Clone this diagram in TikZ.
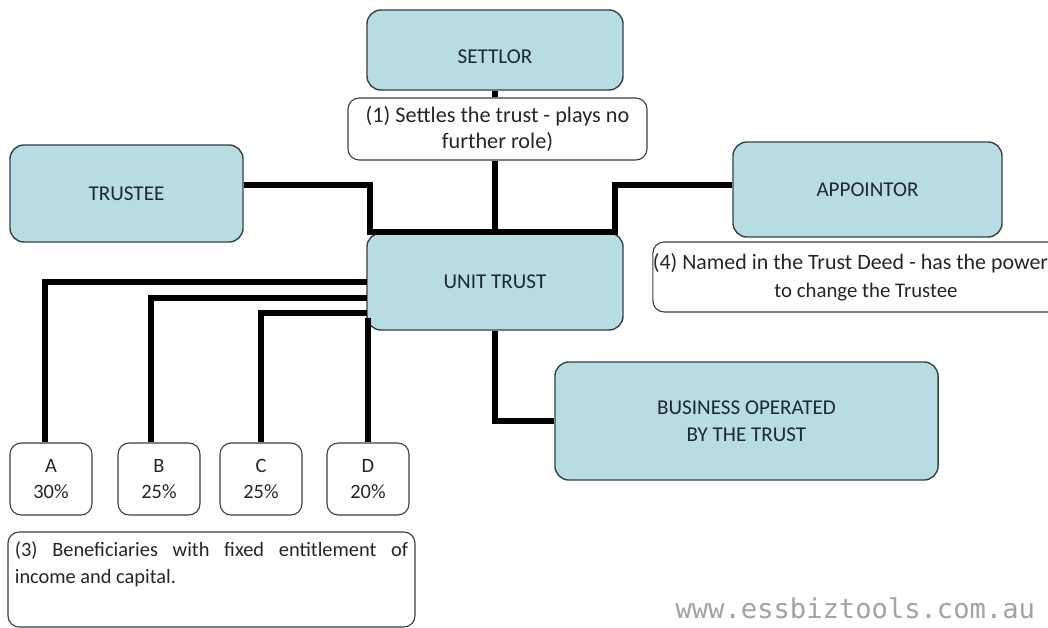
\documentclass[tikz,border=0pt]{standalone}
\usepackage{fontspec}
\setmainfont{Carlito}
\newfontfamily\webfont{DejaVu Sans Mono}
\usepackage{xcolor}

\definecolor{boxfill}{RGB}{183,221,226}
\definecolor{boxline}{RGB}{55,65,70}
\definecolor{labeltext}{RGB}{30,40,52}

\begin{document}
\begin{tikzpicture}[x=0.025cm, y=-0.025cm,
    party/.style={draw=boxline, line width=1pt, fill=boxfill, rounded corners=10pt,
        text=labeltext, align=center, inner sep=0pt, font=\fontsize{15}{19}\selectfont},
    remark/.style={draw=boxline, line width=0.8pt, fill=white, rounded corners=8pt,
        text=black!85, align=center, inner sep=0pt, font=\fontsize{14.5}{19}\selectfont},
    share/.style={remark, minimum width=2.05cm, minimum height=1.8cm},
    link/.style={line width=4.3pt}]
    \useasboundingbox (0,0) rectangle (1048,628);
    \fill[white] (0,0) rectangle (1048,628);
    \clip (0,0) rectangle (1048,628);

    % parties
    \node[party, minimum width=6.4cm, minimum height=2cm, text height=19.6pt, text depth=0pt] (settlor) at (495,50) {SETTLOR};
    \node[party, minimum width=5.825cm, minimum height=2.425cm] (trustee) at (126.5,193.5) {TRUSTEE};
    \node[party, minimum width=6.725cm, minimum height=2.375cm] (appointor) at (867.5,189.5) {APPOINTOR};
    \node[party, minimum width=6.4cm, minimum height=2.425cm] (unit) at (495,281.5) {UNIT TRUST};
    \node[party, minimum width=9.575cm, minimum height=2.95cm] (business) at (746.5,421) {BUSINESS OPERATED\\BY THE TRUST};

    % remarks
    \node[remark, minimum width=7.475cm, minimum height=1.55cm, font=\fontsize{15.8}{18}\selectfont] (note1) at (497.5,129)
        {(1) Settles the trust - plays no\\further role)};
    \node[remark, minimum width=10.625cm, minimum height=1.75cm, font=\fontsize{14.8}{20}\selectfont] (note4) at (866,277)
        {{\fontsize{15.6}{20}\selectfont (4) Named in the Trust Deed - has the power}\rule{22pt}{0pt}\\to change the Trustee};
    \node[remark, minimum width=10.175cm] (note3) at (211.5,579.5)
        {\parbox[c][2.375cm][t]{9.83cm}{\vspace*{7pt}(3) Beneficiaries with fixed entitlement of\linebreak income and capital.}};

    % beneficiaries
    \node[share] (shareA) at (51,479) {A\\30\%};
    \node[share] (shareB) at (159,479) {B\\25\%};
    \node[share] (shareC) at (261,479) {C\\25\%};
    \node[share] (shareD) at (368,479) {D\\20\%};

    \node[anchor=base east, text=black!36, font=\webfont\fontsize{19.3}{22}\selectfont] (site) at (1040,619)
        {www.essbiztools.com.au};

    % connectors
    \coordinate (tl) at (370,232);
    \coordinate (tr) at (615,232);
    \coordinate (rowA) at (367,282);
    \coordinate (rowB) at (367,298);
    \coordinate (rowC) at (367,313);
    \coordinate (rowD) at (368,318);

    \draw[link] (settlor.south) -- (settlor.south |- note1.north);
    \draw[link] (note1.south -| unit.north) -- (unit.north);
    \draw[link] ([yshift=6pt]trustee.east) -| (tl) -- (tr) |- ([yshift=3pt]appointor.west);
    \draw[link] (unit.south) |- (business.west);
    \draw[link] (rowA) -| ([xshift=-4pt]shareA.north);
    \draw[link] (rowB) -| ([xshift=-6pt]shareB.north);
    \draw[link] (rowC) -| (shareC.north);
    \draw[link] (rowD) -- (rowD |- shareD.north);
\end{tikzpicture}
\end{document}
